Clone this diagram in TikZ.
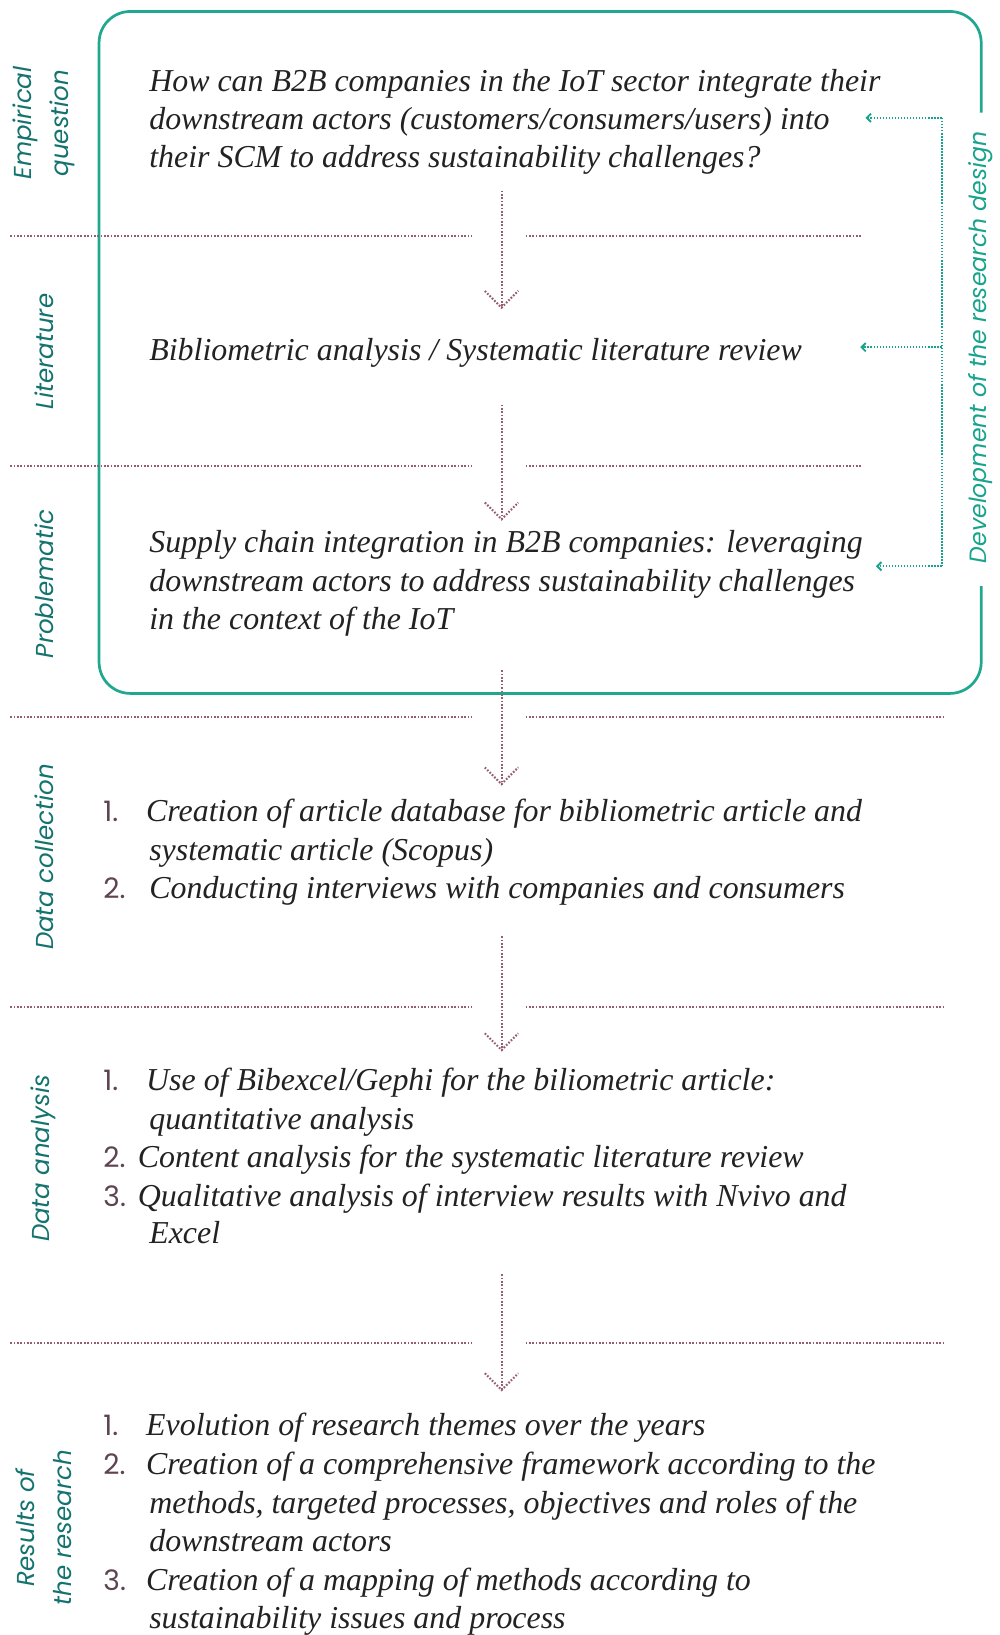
\documentclass[tikz,border=0pt]{standalone}
\usepackage{fontspec}
\setmainfont{Liberation Serif}
\newfontfamily\lblfont{Poppins}
\usetikzlibrary{arrows.meta}
\definecolor{tealL}{HTML}{14736F}
\definecolor{tealR}{HTML}{17A38C}
\definecolor{boxc}{HTML}{1FA88F}
\definecolor{maroonD}{HTML}{955E6F}
\definecolor{numc}{HTML}{5E4352}
\definecolor{txt}{HTML}{222222}
\begin{document}
\begin{tikzpicture}[x=1pt,y=-1pt,
 txtline/.style={anchor=base west, inner sep=0pt, font=\fontsize{30.6}{36}\selectfont\itshape, text=txt},
 numlbl/.style={anchor=base west, inner sep=0pt, font=\lblfont\fontsize{27}{36}\selectfont, text=numc},
 sidelbl/.style={rotate=90, align=center, inner sep=0pt, font=\lblfont\itshape\fontsize{23.5}{35}\selectfont, text=tealL},
 sepline/.style={draw=maroonD, line width=2pt, dash pattern=on 1.6pt off 1.6pt},
 flow/.style={draw=maroonD, line width=2pt, dash pattern=on 1.6pt off 1.6pt},
 fb/.style={draw=tealR, line width=2pt, dash pattern=on 1.5pt off 1.4pt},
 fbarrow/.style={fb, -{Straight Barb[length=4pt,width=8pt,line width=1.8pt]}},
 boxline/.style={draw=boxc, line width=2.6pt, rounded corners=30pt}]
\useasboundingbox (0,0) rectangle (959,1568);

% green frame
\draw[boxline] (941,108) -- (941,11) -- (95,11) -- (95,665) -- (941,665) -- (941,562);
\node[rotate=90, inner sep=0pt, font=\lblfont\itshape\fontsize{22.6}{30}\selectfont, text=tealR] (dev) at (940,333) {Development of the research design};

% side labels
\node[sidelbl] (lEQ) at (42,118) {Empirical\\question};
\node[sidelbl] (lLit) at (42,337) {Literature};
\node[sidelbl] (lPro) at (42,560) {Problematic};
\node[sidelbl] (lDC) at (42,822) {Data collection};
\node[sidelbl] (lDA) at (42,1111) {Data analysis};
\node[sidelbl] (lRes) at (42,1465) {Results of\\the research};

% separators
\foreach \yy/\xe in {226/826,447/826,688/907,966/907,1288/907}{
  \draw[sepline] (10,\yy) -- (452,\yy);
  \draw[sepline] (504,\yy) -- (\xe,\yy);
}

% empirical question
\node[txtline] (e1) at (143,88) {How can B2B companies in the IoT sector integrate their};
\node[txtline] (e2) at (143,124.5) {downstream actors (customers/consumers/users) into};
\node[txtline] (e3) at (143,161) {their SCM to address sustainability challenges?};

% literature
\node[txtline] (b1) at (143,346) {Bibliometric analysis / Systematic literature review};

% problematic
\node[txtline] (p1) at (143,530) {Supply chain integration in B2B companies: leveraging};
\node[txtline] (p2) at (143,567) {downstream actors to address sustainability challenges};
\node[txtline] (p3) at (143,604) {in the context of the IoT};

% data collection
\node[numlbl] (dc1n) at (99,788) {1.};
\node[txtline] (dc1) at (140,788) {Creation of article database for bibliometric article and};
\node[txtline] (dc1b) at (143,825) {systematic article (Scopus)};
\node[numlbl] (dc2n) at (99,862) {2.};
\node[txtline] (dc2) at (143,862) {Conducting interviews with companies and consumers};

% data analysis
\node[numlbl] (da1n) at (99,1046) {1.};
\node[txtline] (da1) at (140,1046) {Use of Bibexcel/Gephi for the biliometric article:};
\node[txtline] (da1b) at (143,1083) {quantitative analysis};
\node[numlbl] (da2n) at (99,1120) {2.};
\node[txtline] (da2) at (132,1120) {Content analysis for the systematic literature review};
\node[numlbl] (da3n) at (99,1157) {3.};
\node[txtline] (da3) at (132,1157) {Qualitative analysis of interview results with Nvivo and};
\node[txtline] (da3b) at (143,1193) {Excel};

% results
\node[numlbl] (r1n) at (99,1377) {1.};
\node[txtline] (r1) at (140,1377) {Evolution of research themes over the years};
\node[numlbl] (r2n) at (99,1414) {2.};
\node[txtline] (r2) at (140,1414) {Creation of a comprehensive framework according to the};
\node[txtline] (r2b) at (143,1451) {methods, targeted processes, objectives and roles of the};
\node[txtline] (r2c) at (143,1488) {downstream actors};
\node[numlbl] (r3n) at (99,1525) {3.};
\node[txtline] (r3) at (140,1525) {Creation of a mapping of methods according to};
\node[txtline] (r3b) at (143,1562) {sustainability issues and process};

% flow arrows
\foreach \i/\ya/\yb in {1/183/295,2/388/498,3/643/752,4/898/1007,5/1222/1333}{
  \coordinate (fa\i) at (481,\ya);
  \coordinate (fb\i) at (481,\yb);
  \draw[flow] (fa\i) -- (fb\i);
  \draw[flow] (fb\i) ++(-16,-16) -- (fb\i) -- ++(16,-16);
}

% feedback connector
\coordinate (ft) at (903,113);
\coordinate (fm) at (903,333);
\coordinate (fbm) at (903,543);
\coordinate (te) at (830,113);
\coordinate (tm) at (825,333);
\coordinate (tb) at (840,543);
\draw[fb] (ft) -- (fbm);
\draw[fbarrow] (ft) -- (te);
\draw[fbarrow] (fm) -- (tm);
\draw[fbarrow] (fbm) -- (tb);
\end{tikzpicture}
\end{document}
